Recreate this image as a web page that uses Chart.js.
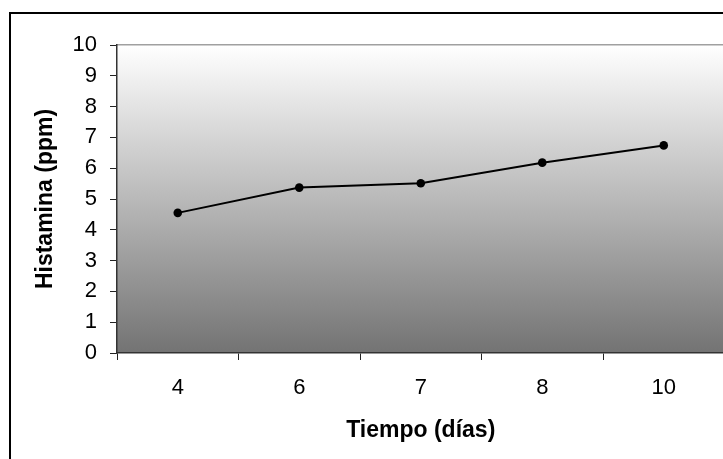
<!DOCTYPE html>
<html>
<head>
<meta charset="utf-8">
<script src="https://cdn.jsdelivr.net/npm/chart.js@4/dist/chart.umd.min.js"></script>
<style>
  html, body { margin: 0; padding: 0; overflow: hidden; background: #fff; }
  #wrap { width: 740px; height: 459px; position: relative; }
</style>
</head>
<body>
<div id="wrap"><canvas id="c"></canvas></div>
<script>
const categories = ["4", "6", "7", "8", "10"];
const histamina = [4.55, 5.37, 5.51, 6.18, 6.74];
const yTicks = [0, 1, 2, 3, 4, 5, 6, 7, 8, 9, 10];
const xTitle = "Tiempo (días)";
const yTitle = "Histamina (ppm)";

const FONT = "'Liberation Sans', Arial, sans-serif";

const bgPlugin = {
  id: 'bg',
  beforeDraw(chart) {
    const {ctx, chartArea: a} = chart;
    ctx.save();
    ctx.fillStyle = '#ffffff';
    ctx.fillRect(0, 0, chart.width, chart.height);
    // outer border
    ctx.strokeStyle = '#000';
    ctx.lineWidth = 2;
    ctx.strokeRect(10, 13, chart.width + 50, chart.height + 50);
    // plot gradient
    const g = ctx.createLinearGradient(0, a.top, 0, a.bottom);
    g.addColorStop(0, '#ffffff');
    g.addColorStop(1, '#737373');
    ctx.fillStyle = g;
    ctx.fillRect(a.left, a.top, a.right - a.left, a.bottom - a.top);
    // top plot border
    ctx.strokeStyle = '#a0a0a0';
    ctx.lineWidth = 1.5;
    ctx.beginPath();
    ctx.moveTo(a.left, a.top - 0.25);
    ctx.lineTo(a.right + 20, a.top - 0.25);
    ctx.stroke();
    ctx.restore();
  }
};

new Chart(document.getElementById('c'), {
  type: 'line',
  data: {
    labels: categories,
    datasets: [{
      data: histamina,
      borderColor: '#000',
      borderWidth: 2,
      backgroundColor: '#000',
      pointBackgroundColor: '#000',
      pointBorderColor: '#000',
      pointRadius: 4.3,
      pointBorderWidth: 0,
      tension: 0,
      fill: false
    }]
  },
  options: {
    responsive: true,
    maintainAspectRatio: false,
    animation: false,
    devicePixelRatio: 1,
    layout: { padding: { left: 0, top: 45, right: 15.5, bottom: 0 } },
    plugins: { legend: { display: false }, tooltip: { enabled: false } },
    scales: {
      x: {
        type: 'category',
        offset: true,
        grid: {
          offset: true,
          drawOnChartArea: false,
          drawTicks: true,
          tickLength: 7,
          color: '#222',
          lineWidth: 1
        },
        border: { display: true, color: '#333', width: 1.5 },
        ticks: {
          color: '#000',
          padding: 15,
          font: { family: FONT, size: 22 },
          maxRotation: 0
        },
        title: {
          display: true,
          text: xTitle,
          color: '#000',
          font: { family: FONT, size: 23, weight: 'bold' },
          padding: { top: 0, bottom: 15 }
        },
        afterFit(scale) { scale.height = 106; }
      },
      y: {
        min: 0,
        max: 10,
        afterBuildTicks(scale) { scale.ticks = yTicks.map(v => ({ value: v })); },
        grid: {
          drawOnChartArea: false,
          drawTicks: true,
          tickLength: 7,
          color: '#222',
          lineWidth: 1
        },
        border: { display: true, color: '#333', width: 1.5 },
        ticks: {
          color: '#000',
          padding: 13,
          font: { family: FONT, size: 22 },
          stepSize: 1
        },
        title: {
          display: true,
          text: yTitle,
          color: '#000',
          font: { family: FONT, size: 23, weight: 'bold' },
          padding: { top: 32, bottom: 0 }
        },
        afterFit(scale) { scale.width = 117; }
      }
    }
  },
  plugins: [bgPlugin]
});
</script>
</body>
</html>
